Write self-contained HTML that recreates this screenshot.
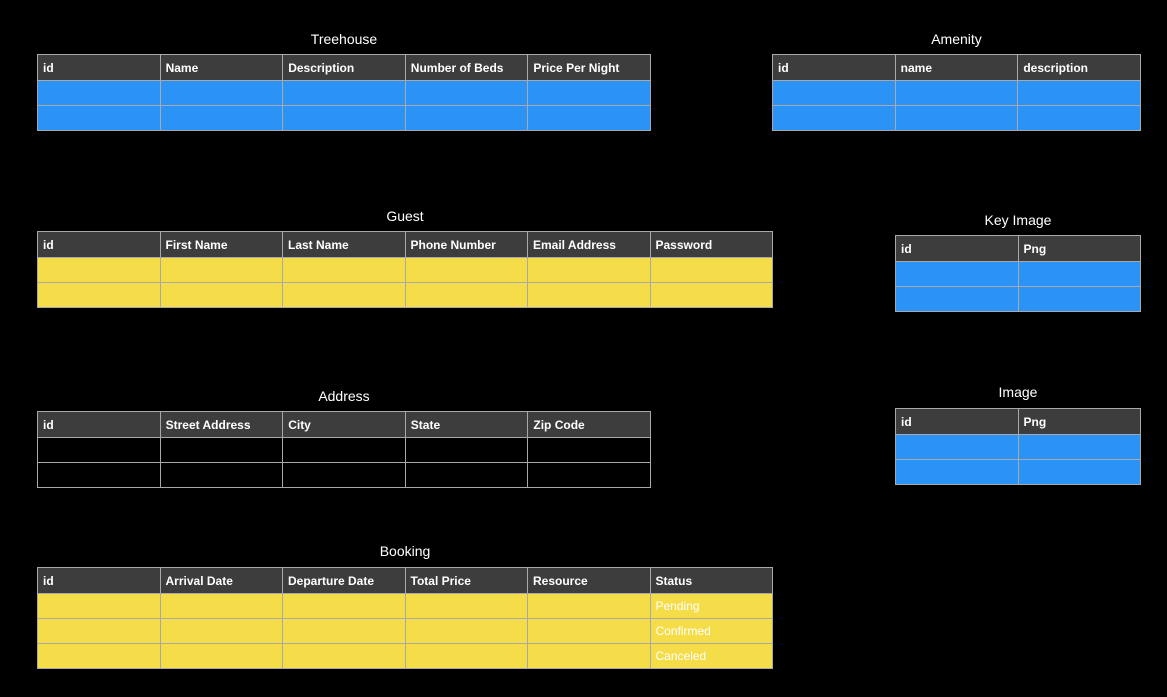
<!DOCTYPE html>
<html><head><meta charset="utf-8"><style>
body{margin:0;width:1167px;height:697px;background:#000;overflow:hidden;font-family:"Liberation Sans",Arial,sans-serif;position:relative}
.t{position:absolute;color:#fff;font-size:14px;text-align:center}
table{position:absolute;border-collapse:collapse;table-layout:fixed}
td{border:1px solid #a9a9a9;padding:0 0 0 5px;font-size:12px;color:#fff;white-space:nowrap;overflow:hidden}
tr.h td{background:#3d3d3d;font-weight:bold;height:25px}
tr.b td{background:#2a93f5;height:24px}
tr.y td{background:#f5dd4a;height:24px}
tr.k td{background:#000;height:24px}
</style></head><body>

<div class="t" style="left:37px;width:614px;top:31px">Treehouse</div>
<table style="left:37px;top:54px;width:614px">
<tr class="h"><td>id</td><td>Name</td><td>Description</td><td>Number of Beds</td><td>Price Per Night</td></tr>
<tr class="b"><td></td><td></td><td></td><td></td><td></td></tr>
<tr class="b"><td></td><td></td><td></td><td></td><td></td></tr>
</table>

<div class="t" style="left:772px;width:369px;top:31px">Amenity</div>
<table style="left:772px;top:54px;width:369px">
<tr class="h"><td>id</td><td>name</td><td>description</td></tr>
<tr class="b"><td></td><td></td><td></td></tr>
<tr class="b"><td></td><td></td><td></td></tr>
</table>

<div class="t" style="left:37px;width:736px;top:208px">Guest</div>
<table style="left:37px;top:231px;width:736px">
<tr class="h"><td>id</td><td>First Name</td><td>Last Name</td><td>Phone Number</td><td>Email Address</td><td>Password</td></tr>
<tr class="y"><td></td><td></td><td></td><td></td><td></td><td></td></tr>
<tr class="y"><td></td><td></td><td></td><td></td><td></td><td></td></tr>
</table>

<div class="t" style="left:895px;width:246px;top:212px">Key Image</div>
<table style="left:895px;top:235px;width:246px">
<tr class="h"><td>id</td><td>Png</td></tr>
<tr class="b"><td></td><td></td></tr>
<tr class="b"><td></td><td></td></tr>
</table>

<div class="t" style="left:37px;width:614px;top:388px">Address</div>
<table style="left:37px;top:411px;width:614px">
<tr class="h"><td>id</td><td>Street Address</td><td>City</td><td>State</td><td>Zip Code</td></tr>
<tr class="k"><td></td><td></td><td></td><td></td><td></td></tr>
<tr class="k"><td></td><td></td><td></td><td></td><td></td></tr>
</table>

<div class="t" style="left:895px;width:246px;top:384px">Image</div>
<table style="left:895px;top:408px;width:246px">
<tr class="h"><td>id</td><td>Png</td></tr>
<tr class="b"><td></td><td></td></tr>
<tr class="b"><td></td><td></td></tr>
</table>

<div class="t" style="left:37px;width:736px;top:543px">Booking</div>
<table style="left:37px;top:567px;width:736px">
<tr class="h"><td>id</td><td>Arrival Date</td><td>Departure Date</td><td>Total Price</td><td>Resource</td><td>Status</td></tr>
<tr class="y"><td></td><td></td><td></td><td></td><td></td><td>Pending</td></tr>
<tr class="y"><td></td><td></td><td></td><td></td><td></td><td>Confirmed</td></tr>
<tr class="y"><td></td><td></td><td></td><td></td><td></td><td>Canceled</td></tr>
</table>

</body></html>
